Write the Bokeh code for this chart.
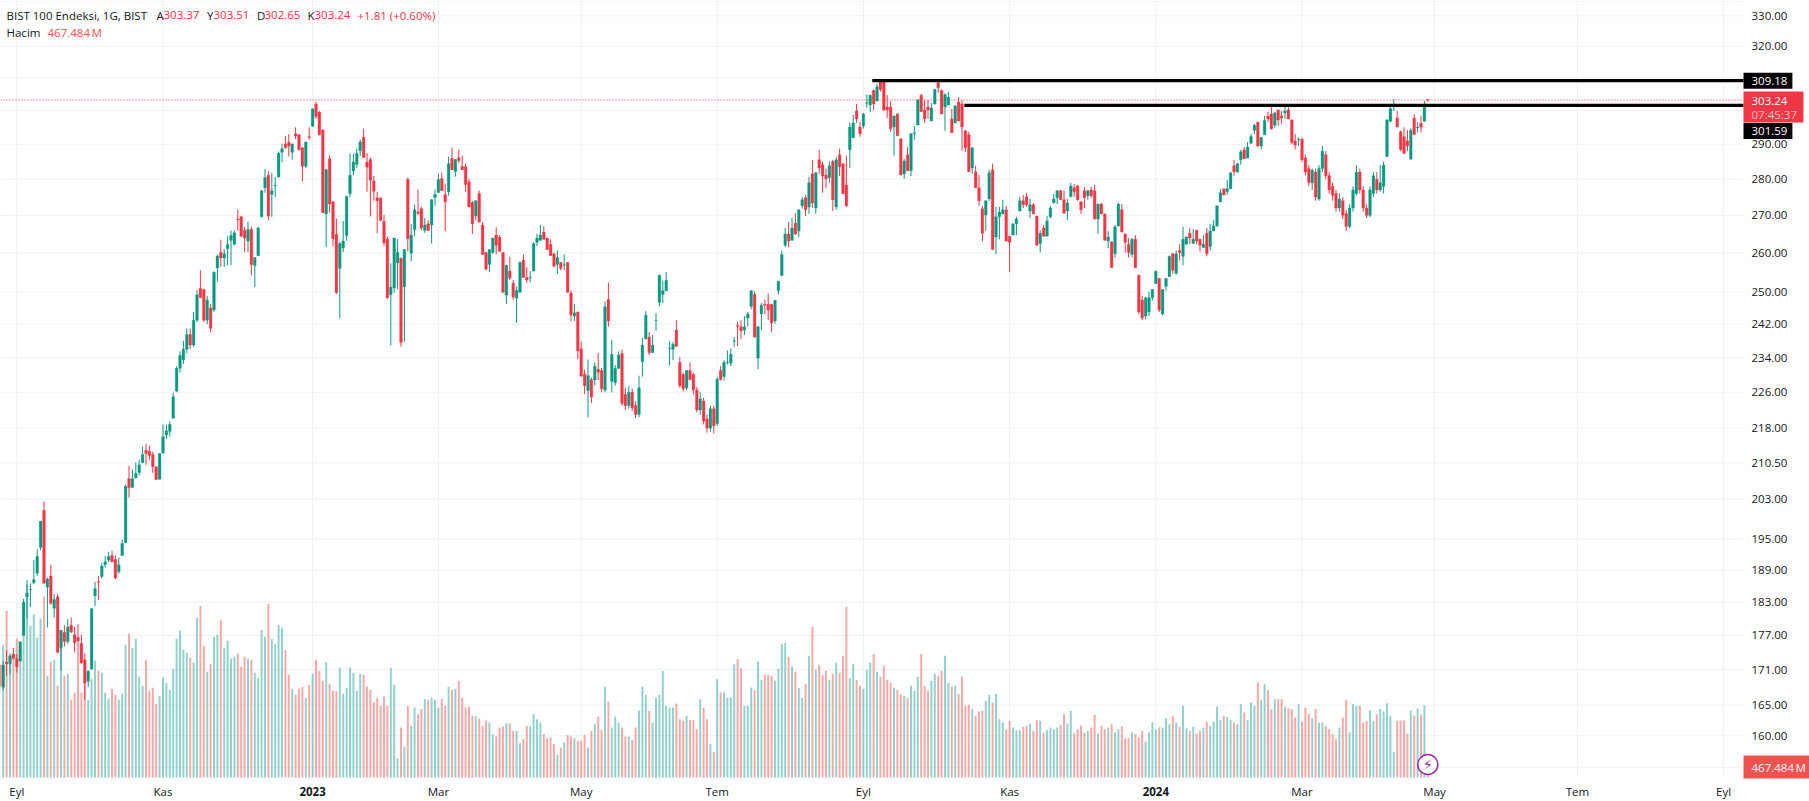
import math
from bokeh.embed import file_html
from bokeh.resources import INLINE
from bokeh.plotting import figure
from bokeh.models import Range1d, FixedTicker, LinearScale, Label, LogAxis, LinearAxis

open_prices = [
171.8,168,172.3,172,173.7,172.9,172.5,177,184,185.3,
186.6,188.4,193.4,200.7,185.8,187.9,181.9,184,174.8,177.5,
175.9,178.8,177.1,176.6,175.6,172.7,169,171.1,184.2,186.8,
187.8,190,190.9,191.8,191,188.7,191.8,194.3,207.2,205.4,
207.4,208.5,210.6,213.2,213,212.3,209.7,207.1,212.6,216.5,
217.3,220.2,226.3,231.5,233.5,236,239.5,237,243,250.9,
250.6,243,246,245.5,256.1,260.2,258.7,261.1,263.3,262.3,
269,269.6,266,263.1,266.2,256.7,259.3,269.6,277.6,281.1,
275.7,278.1,280.6,287.7,290.1,290.6,287.7,293.1,292.8,289,
283.7,292.2,295.3,302,299.6,294.2,270.4,285.8,273.7,264.9,
256,261.3,264.6,276,282.3,284.2,288.1,292.1,284.9,285.6,
279.5,274.8,274.8,268.4,263.6,249.3,251,257.4,258.6,251.3,
279.9,259.9,266.1,270.9,271.8,265.9,267.7,267.4,274.9,276.3,
280.2,275.7,276.5,285.9,282.2,286.1,283.6,283.6,279.3,273.5,
269.8,276,267.4,260.1,257,260.1,264.7,264.1,260.1,249.2,
255.3,252.2,248.4,249.9,258.1,253.7,253.5,255.3,262.8,263.3,
265.5,263.9,262.2,259.8,257,257.5,256.8,257.5,249.7,244,
245,236.1,230.2,226.4,228.9,228.8,231.3,231,226.5,248.1,
228.5,228.2,231.5,235,225.5,223,226,223,221,233.1,
238.5,238.9,235.2,242.9,247.4,249.4,250.3,236.1,236,240.6,
232.9,230.1,227,231,230.1,226.5,222,224,220,218,
222.3,219,231,229.6,232.9,232.7,237.9,241.7,241.4,240.6,
243.5,246.4,249.4,233.9,244.5,246.9,246.9,246.9,242.8,250.3,
254.2,262,265,263.3,267.9,265.8,272.6,274.8,272.3,281.5,
272,285.5,284.1,281.2,280.4,285,272.3,287,284.4,278.4,
288.4,291.9,299.9,295.1,295.4,302.2,301.7,306.1,302.9,309.1,
309.4,301.1,301.1,295.1,299,291.6,281.5,287,282.4,293.2,
295.7,304.7,300.2,301.1,296.9,302,308.5,306.1,301.1,301.7,
297.5,296.3,302.6,302,294,292.8,283.2,282.1,277.6,271.8,
270.1,274.5,282.7,264.2,269.6,270.4,271.5,264.4,264.7,267.7,
271.2,274,275.1,271.2,272.9,269.8,262.5,266.6,264.4,269.6,
273.4,274.8,276.8,274.3,271.2,275.1,277.6,278.1,273.7,276.8,
275.4,277,276.8,269,273.1,270.4,263.1,262.9,259.8,267.1,
271.5,265,262.3,259.6,263.6,254.2,248,244,245,248.6,
252.1,253.4,244.5,251.4,253.9,259.8,254.7,260.6,259.1,262.3,
265.2,262.5,266,263.6,261.4,265.2,261.7,265.8,267.1,273.7,
277.3,276.5,277.3,283.8,282.1,285.5,288.4,286,290.3,294.1,
296.5,289.5,292.8,298.4,299,295.6,300.2,298.4,299.3,300.2,
297.2,291,291.3,291.5,286,283,279,282,274.5,283,
287,281,278,276,272,274,270.5,267,272,276,
282,277,272,270,276,280,277,278,286.5,296.8,
301.5,297.8,293.7,292.2,291,285.7,297.7,294.8,296.2,296.8,
303.37]

close_prices = [
168.2,171.8,172,173.4,172.9,171.5,175.8,183,184.7,185.4,
187.2,191.6,198.5,186.5,187.3,182.8,183.5,174,177.9,175.9,
178.5,177.6,175.7,176,172.2,168.7,170.7,181.8,185.5,186.7,
189.8,190.6,191.6,190.6,187.5,190,194.1,205.6,205.3,207.2,
208.3,210.1,212.3,212.5,212.1,209.7,207,212.5,216.1,217.4,
218.8,225,231.5,234.5,236,239.5,237,243,249.3,248.6,
243,248,241,255,259.2,258.7,259.8,262.2,264.6,265.3,
268.8,264.4,263.9,266.2,257,258.8,266.6,276.8,280.5,269.8,
276.8,278.2,287.4,288.7,289,289.5,290.1,292.4,288.4,283.7,
290.7,292,300.5,298.2,292.8,270.7,282.7,273.1,263.7,249.8,
262.5,263.1,275.2,281.1,284.9,287.3,290.7,286.2,283.4,279.7,
276.6,274,268.7,262.7,248.5,251.2,263.9,260.1,237.6,260.9,
263.7,264.7,271.5,270.6,266.6,267.4,265.9,274.3,275.7,279.9,
276.8,273.7,284.4,282.7,285.6,285.3,282.7,278.5,272.3,267.7,
274,268.2,259.6,255.8,260.9,263.9,262,260.4,249.9,256.8,
253.5,248.7,250.4,257.5,253.7,253,253.6,262.5,263.9,264.7,
263.6,260.9,259.3,256.5,258.8,256,256.9,249.9,244.3,244.8,
235.6,229.7,227.5,229.8,224.9,232,230.6,226.8,246.3,242.8,
234.8,231.5,234.6,223.5,223,226,222.5,221,227,237,
244.2,235.2,237,243,254.2,250.3,252.9,236.2,237.2,236.7,
227.5,226.8,231,228.9,226.5,222,224.5,219.5,218,222.3,
218.5,229,228.9,232.9,233,234.8,238,241.5,240.4,241.4,
244.5,250.3,238.9,241.4,246.7,246.7,245.5,242.3,247.9,252.7,
259.6,265,263.1,266.6,265,271.5,274.3,271.5,279,273.4,
281.8,283.2,280.9,280.1,283.8,274.3,285.5,283.5,275.9,272.6,
295.1,296.3,297.5,293.1,299,302.4,304.7,302,307.3,306.4,
300.2,300.2,294.6,298.4,292.5,281.2,285.2,282.4,293.1,293.4,
303.2,299.7,297.5,300.2,300.8,306.4,307,299,304.9,304.1,
293.4,301.4,296.9,295.1,289,282.1,289,277.6,274,265.2,
274,281.8,260.9,269.6,270.9,271.5,263.1,262.8,267.7,269,
274,272.9,272.9,272.9,270.4,262,265.2,264.4,268.5,272,
274.5,276.8,274.3,270.6,273.4,278.1,276.5,274.3,271.5,274.8,
276.8,275.4,269,273.1,270.4,263.3,264.2,256.2,266.9,273.1,
265.5,262.8,260.1,263.6,256.2,245,243.5,248.5,248.6,250.6,
255.2,245.5,250.6,253.4,259.1,255.5,259.8,260.1,263.6,264.2,
263.9,263.6,263.1,262,262.3,259.8,265.8,267.1,272.6,276.2,
275.6,277.3,281.8,282.1,284.4,287.8,285.8,289.2,292.3,295.6,
289.5,292,297,297.5,294.6,299.3,297.2,297.8,299.9,297.5,
290.5,289.8,291.5,285.5,282,279,282.5,275,283,288,
281,277,275.5,272,274.5,270,267,272,277,282,
277,272,270,277,281,277,279,284,297.2,300.6,
301.8,295.1,288.5,287.5,289.5,294.1,292.9,295,295,301.8,
303.24]

high_prices = [
172,172.5,174.4,173.8,174.8,173.7,176,183.6,187.1,186.5,
190.9,193,198.6,202.5,187.6,190,184.5,184.5,178,178.8,
179.9,180.2,178.5,179,177.1,173.8,170.9,181.9,186.8,187.9,
190.4,191.7,192.5,192.7,191.8,191.4,194.9,206,209.9,209.1,
210.6,211.2,214,214.6,214.2,212.9,209.7,212.5,218.8,218.8,
219.5,225.9,232,235.5,238,241,241,245,250.5,255.5,
250.8,249,247,255.2,259.6,263.5,261,264.4,265.9,266,
271.6,269.8,266.9,268.3,267,258.9,267,277,282.8,282.3,
281.7,280.6,287.9,290.2,292.4,293,290.2,295,293,289.2,
290.8,295,300.7,302.7,299.8,294.4,283,286.8,273.9,269.1,
262.9,268.5,275.3,287.3,287.2,288.7,291.4,294.6,287.5,286.2,
280.9,276.5,274.8,270.1,264.3,257.3,264,263.6,258.8,261,
280.5,267.7,272.9,277.1,272.3,269.3,268.7,274.4,277.1,281.6,
281.9,278.8,286.4,289,285.7,288.4,286.7,284.4,280.2,273.9,
274.1,276.8,268.2,260.2,261,264,266.8,264.7,260.2,256.9,
259,253,251.3,257.8,259.6,256.3,255.3,262.8,265,267.4,
267.1,264,263.6,259.9,260.7,257.6,259.6,257.6,250.4,247,
245.1,237.8,231.2,233.6,229.4,232.9,235.1,231.6,247.6,252.4,
238.2,232.3,235.5,235.9,227,227.4,226.8,224,229.8,238.7,
245.2,240.1,239.4,244.7,254.4,252.9,255,237.9,237.7,243,
234.1,230.5,231.1,232.9,230.5,227.2,226,224.8,221,223,
223,229.5,232,233.4,235.7,236.2,238.9,242.6,243,244,
245,250.4,250.1,241.6,247.2,248.1,249.6,247,248,252.8,
260.6,266.6,268.2,269.3,270.6,271.6,275.1,275.6,280.7,285.5,
282.1,288.4,285,283,285.2,285.5,286.4,288.7,284.5,286.7,
296.3,298.7,302,296.6,299.3,304.9,304.8,306.4,308.2,309.4,
309.7,304.7,302.9,298.5,299.2,291.7,285.8,289.2,293.2,295.4,
303.5,305.1,303.2,303.2,302.3,306.7,309.1,306.4,305.2,305.8,
300.5,301.7,304.1,303.2,294.1,293.7,289.1,283.8,281.2,272.6,
274.1,282.7,284.4,272.3,272.3,274.3,272.6,264.5,267.8,269.6,
275.1,275.6,276.2,274.5,273.4,269.9,266,267.4,269.8,272.6,
275.9,276.9,277,276.8,274.5,279,278.7,278.4,273.8,277.9,
276.9,277.9,278.4,273.2,273.4,270.5,265.8,263,267.4,273.4,
273.1,265.1,263.9,263.9,264.7,254.4,249,248.8,250,250.7,
255.5,253.5,250.7,253.5,259.3,259.9,260.6,262.3,266.9,264.3,
266.6,266.3,266.1,263.7,264.7,266.6,267.7,268.7,272.7,277.3,
277.4,279.8,281.9,285.5,284.7,288.4,289.2,290.7,293,296,
296.7,292.2,298.4,299.6,301.4,299.6,300.3,299.9,301.4,301.4,
297.4,293,292,292,287,284,283,283,284,289.5,
288,282,279,277,276,275,271.5,273,278,284,
283,278,273,278,282,282,284,285,297.4,301,
303.4,299.9,294,295,294.2,294.7,298.9,296.5,298.5,303,
303.51]

low_prices = [
167.8,167.5,169.9,170.2,172.8,170.5,172.3,176.9,180,182.1,
186.3,187.9,192.8,186.4,178.4,182.5,180.2,173.8,170.9,175,
175.5,177.4,174,175.3,172,165.8,168,171,182.3,183.4,
187.4,189.5,190.6,190.5,187.3,188.3,191.8,194.2,203.3,205.2,
207.2,207.9,210.4,210.1,211.2,208.4,206.9,207,212.5,215.6,
216.1,220.1,226,230.5,232.5,235,236,236.5,242.5,248.4,
242.5,242,240,245,252.6,256.4,256.4,256.8,256.8,262,
265.9,264.2,260.2,260.2,254.2,251.2,259.2,269.4,276.2,268.7,
269.6,274.9,280.5,284.8,288.7,286.5,285.6,291.5,288.2,279.4,
283.1,291.3,295.2,297.5,292.6,270.6,261.5,270.8,261.7,249.5,
243.4,260.2,263.2,275,281.1,283.2,286.6,286,276.5,269.7,
274,265.2,268.4,261.8,248.3,236.9,249.8,250.6,236.6,237.8,
260.4,257.8,264.4,270.1,266,265.3,265.8,262.5,272.6,276.2,
276.7,265.8,275.4,282.6,280.7,284.6,282.6,276.5,272.2,265,
268.7,268.1,259.5,255.4,255,259.8,259.6,260.3,249.8,247,
253,248,242.3,249.8,253.5,252.2,252.4,255.2,261.7,263.2,
263.5,260.8,259.2,256.4,254.5,255.5,255.5,249.8,242.8,242.8,
233.7,229.6,225.6,220.4,223.6,227.5,228.8,226,226,241.4,
226,227.5,231.4,223,222,222.3,221.8,220.2,220.4,229.6,
238.3,234.6,235.1,240.4,246.4,247.2,250.2,232.2,233.4,236.6,
227,226.2,226.5,228.7,225.5,221.5,221,218.8,217,217.2,
216.8,218.5,228.7,228.7,232.4,232,236.6,236.7,238.4,239.4,
241.4,245.7,238.8,231.3,240.6,244.5,243,240.1,242.1,249.4,
254,261.5,261.5,263.2,264.7,264.2,271.8,269.8,270.4,272,
270.4,281.5,276.2,277.6,279,271.2,271.5,280.9,275.8,272.3,
283.2,291.8,296.3,292.2,294.6,300.8,299.6,300.2,302.8,305.8,
299.9,297.8,293.7,286.7,292.4,281.1,280.1,282.3,280.9,291.3,
295.6,299.6,296.3,297.5,296.8,301.9,305.5,298.9,294,301.6,
293.3,296.2,296.8,288.1,287.8,282,281.5,277.5,272.6,263.1,
265.8,273.9,260.8,259.6,263.6,270.3,263,255,264.6,264.7,
271.1,272,272.3,269.3,270.3,261.9,260.1,264.3,264.3,269.3,
273.3,273.1,274.2,270.5,268.7,275,275.1,274,270.4,272,
274.3,274.8,268.9,265,270.3,263.2,261.2,256.1,258.8,267,
265.4,260.1,258.8,258.8,256.1,244.5,243,243.2,244,247.9,
252,245,244.2,250.3,253.8,254.6,254.4,258,256.8,262.2,
262.3,262.3,262.3,260.4,261.3,259.1,260.6,265.7,267,273.6,
275.5,275.6,277.2,281,281.8,284.1,285.7,285.9,290.2,293,
289.2,288.5,292.7,296.6,294.3,294.9,295.4,296,297.5,297.4,
290,288.5,289.5,285,281,278,277,274,274,282,
280,276,274,271,271,269,265.8,266.5,271,275.5,
276,271,269.3,269.5,275,276,276.5,276,286.3,296.5,
299.9,295,288,287,288,285.6,292.8,293.5,293.5,296.7,
302.65]

# volume, in units of 467.484 M / 33
volume_read = [
335,398,500,340,368,417,405,467,580,455,
488,420,477,542,305,347,353,275,398,305,
311,233,254,398,254,305,233,296,350,320,
314,254,236,266,248,233,251,398,431,389,
416,302,275,353,260,269,220,245,299,284,
263,326,416,440,383,374,359,344,479,515,
395,317,341,422,428,473,389,410,356,362,
371,332,362,356,353,314,299,443,422,521,
416,401,458,449,383,308,266,248,266,272,
239,278,311,353,320,290,347,281,260,260,
329,251,269,329,314,260,311,308,272,263,
225,239,215,242,215,329,278,57,150,93,
215,155,210,190,205,235,233,239,233,210,
236,215,272,263,266,290,239,210,212,185,
184,177,155,170,165,130,123,150,153,163,
162,140,140,103,115,155,155,190,175,165,
130,118,120,100,68,90,105,127,122,118,
110,110,128,90,140,160,182,142,272,228,
150,182,164,150,123,123,113,150,200,272,
248,200,165,240,248,320,215,210,210,222,
175,170,185,172,172,145,235,210,175,100,
77,295,255,255,240,240,340,355,328,215,
215,270,262,348,292,308,308,305,290,326,
401,404,362,332,317,269,239,281,365,452,
323,338,308,320,293,311,344,314,365,512,
299,341,293,275,266,323,344,371,317,302,
335,293,284,269,263,250,245,239,275,260,
302,371,275,260,290,311,305,320,365,284,
272,275,251,302,215,218,205,185,198,200,
230,248,225,251,175,165,145,170,150,142,
142,152,155,162,140,172,170,135,142,150,
145,150,158,190,162,200,132,145,155,135,
140,150,188,132,155,145,150,160,135,145,
153,118,118,135,130,120,140,108,135,165,
145,150,150,178,160,185,165,152,215,148,
140,152,132,140,150,168,155,168,212,172,
185,182,172,165,160,220,195,172,225,215,
285,232,280,262,205,235,235,235,212,208,
205,180,220,168,210,190,178,205,165,165,
155,145,130,115,150,180,232,135,220,215,
215,165,170,202,170,190,205,198,223,185,
77,170,171,171,132,201,186,207,189,216,
33]

price_ticks = [330, 320, 290, 280, 270, 260, 250, 242, 234, 226, 218, 210.5, 203,
               195, 189, 183, 177, 171, 165, 160, 155]
price_tick_labels = ["330.00", "320.00", "290.00", "280.00", "270.00", "260.00", "250.00",
                     "242.00", "234.00", "226.00", "218.00", "210.50", "203.00", "195.00",
                     "189.00", "183.00", "177.00", "171.00", "165.00", "160.00", ""]
extra_grid_prices = [334.9, 310, 300]
month_ticks = [5, 48, 92, 129, 171, 211, 254, 297, 340, 383, 422, 464, 507]
month_labels = ["Eyl", "Kas", "", "Mar", "May", "Tem", "Eyl", "Kas", "", "Mar", "May", "Tem", "Eyl"]
year_ticks = [92, 340]
year_labels = ["2023", "2024"]
resistance_levels = [309.18, 301.59]
resistance_starts = [256.6, 283.7]
last_price = 303.24
volume_text = "467.484\u202fM"

FONT = "Open Sans"
TXT = "#131722"
UP = "#089981"
DOWN = "#f23645"
VOL_UP = "#26a69a"
VOL_DOWN = "#ef5350"
GRID = "#f0f0f2"
PX = 3.4                    # pixels per candle
W, H = 1809, 801            # the whole picture
PANE_W, PANE_H = 1743, 777  # the price pane inside it
Y330, PX_LOG = 15.3, 994.5  # pixel of 330.00 and pixels per unit of ln(price)


def idx_at(px):
    return (px + 0.7) / PX


def price_at(py):
    return 330 * math.exp(-(py - Y330) / PX_LOG)


N = len(close_prices)
idx = list(range(N))
unit_m = 467.484 / 33
volume_m = [v * unit_m for v in volume_read]
up = [close_prices[i] >= open_prices[i] for i in idx]
x_pane_end = idx_at(PANE_W)
y_pane_bottom = price_at(PANE_H)

p = figure(width=W, height=H, output_backend="svg", toolbar_location=None,
           x_range=Range1d(idx_at(0), idx_at(W)), y_range=Range1d(price_at(H), price_at(0)),
           y_axis_type="log", x_axis_location=None, y_axis_location=None,
           min_border_left=0, min_border_top=0, min_border_right=0, min_border_bottom=0,
           outline_line_color=None)
p.background_fill_color = "white"
p.border_fill_color = "white"
p.grid.visible = False

# volume pane: 3 read units per pixel, zero on the pane's bottom edge
p.extra_y_ranges = {"vol": Range1d(-(H - PANE_H) * 3 * unit_m, PANE_H * 3 * unit_m)}
p.extra_y_scales = {"vol": LinearScale()}

grid_prices = price_ticks + extra_grid_prices
p.segment(x0=[idx_at(0)] * len(grid_prices), x1=[x_pane_end] * len(grid_prices),
          y0=grid_prices, y1=grid_prices, line_color=GRID, line_width=1)
p.segment(x0=month_ticks, x1=month_ticks, y0=[y_pane_bottom] * len(month_ticks),
          y1=[price_at(0)] * len(month_ticks), line_color=GRID, line_width=1)

yax = LogAxis(fixed_location=x_pane_end)
yax.ticker = FixedTicker(ticks=price_ticks, minor_ticks=[])
yax.major_label_overrides = dict(zip(price_ticks, price_tick_labels))
xax = LinearAxis(fixed_location=y_pane_bottom)
xax.ticker = FixedTicker(ticks=month_ticks, minor_ticks=[])
xax.major_label_overrides = dict(zip(month_ticks, month_labels))
xax.major_label_standoff = 6
yax.major_label_standoff = 8
for ax, side in ((xax, "below"), (yax, "right")):
    ax.axis_line_color = None
    ax.major_tick_line_color = None
    ax.minor_tick_line_color = None
    ax.major_tick_out = 0
    ax.major_tick_in = 0
    ax.major_label_text_font = FONT
    ax.major_label_text_font_size = "11.5px"
    ax.major_label_text_color = TXT
    p.add_layout(ax, side)

vol_up = [i for i in idx if up[i]]
vol_dn = [i for i in idx if not up[i]]
p.vbar(x=vol_up, top=[volume_m[i] for i in vol_up], bottom=0, width=0.58,
       y_range_name="vol", fill_color=VOL_UP, fill_alpha=0.5, line_color=None)
p.vbar(x=vol_dn, top=[volume_m[i] for i in vol_dn], bottom=0, width=0.58,
       y_range_name="vol", fill_color=VOL_DOWN, fill_alpha=0.5, line_color=None)

p.line(x=[idx_at(0), x_pane_end], y=[last_price, last_price], line_color=DOWN, line_width=1,
       line_dash=[1, 2])

for group, col in ((vol_up, UP), (vol_dn, DOWN)):
    p.segment(x0=group, x1=group, y0=[low_prices[i] for i in group],
              y1=[high_prices[i] for i in group], line_color=col, line_width=1)
    p.vbar(x=group, width=0.8, fill_color=col, line_color=col, line_width=0.3,
           top=[max(open_prices[i], close_prices[i]) for i in group],
           bottom=[min(open_prices[i], close_prices[i]) for i in group])

p.segment(x0=resistance_starts, x1=[x_pane_end] * 2, y0=resistance_levels, y1=resistance_levels,
          line_color="black", line_width=3.3)

p.scatter(x=[420], y=[price_at(764)], marker="circle", size=20, fill_color="white",
          line_color="#9c27b0", line_width=1.5)


def text(x, y, s, color=TXT, size="11.5px", align="left", weight="normal", font=FONT, **kw):
    """x, y: pixels from the top-left of the picture; y is the middle of the text or its box."""
    lab = Label(x=x, y=H - y, x_units="screen", y_units="screen", text=s,
                text_color=color, text_font=font, text_font_size=size, text_align=align,
                text_baseline="middle", text_font_style=weight, **kw)
    p.add_layout(lab)
    return lab


def fmt(v):
    return f"{v:.2f}"


text(6, 14.5, "BIST 100 Endeksi, 1G, BIST")
for lx, vx, letter, val in ((156, 163, "A", open_prices[-1]), (206.5, 213, "Y", high_prices[-1]),
                            (256.5, 264, "D", low_prices[-1]), (307, 314, "K", close_prices[-1])):
    text(lx, 14.5, letter)
    text(vx, 14.5, fmt(val), color=DOWN)
text(357, 14.5, "+1.81 (+0.60%)", color=DOWN)
text(6, 32, "Hacim")
text(47, 32, volume_text, color=VOL_DOWN)

for t, s in zip(year_ticks, year_labels):
    text(-0.7 + t * PX, 790.5, s, align="center", weight="bold")

# padding order: left, right, top, bottom; the box is anchored, not the text
text(PANE_W, 80.3, fmt(resistance_levels[0]), color="white", background_fill_color="black",
     padding=(8, 5, 4, 4))
text(PANE_W, 106.5, fmt(last_price), color="white", background_fill_color=DOWN,
     padding=(8, 16, 5, 18))
text(1751, 113.7, "07:45:37", color="#fbc4ca")
text(PANE_W, 130.5, fmt(resistance_levels[1]), color="white", background_fill_color="black",
     padding=(8, 5, 4, 4))
text(PANE_W, 766.5, volume_text, color="white", background_fill_color=VOL_DOWN,
     padding=(8, 6, 4, 4))
text(1427.3, 764, "⚡", color="#9c27b0", size="15px", align="center", font="DejaVu Sans")

open("out.html", "w").write(file_html(p, INLINE))
